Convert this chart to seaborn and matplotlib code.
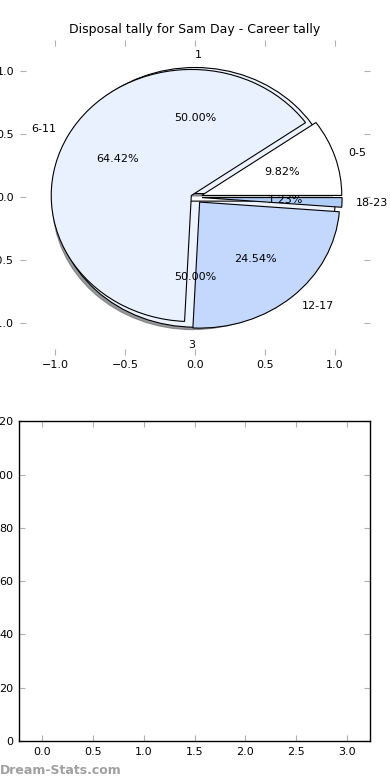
import matplotlib
matplotlib.use("Agg")
import matplotlib.pyplot as plt
import seaborn as sns

title = "Disposal tally for Sam Day - Career tally"
outer_labels = ["1", "3"]
outer_values = [50, 50]
outer_colors = ["#ecf2fe", "#ecf2fe"]
outer_explode = [0.03, 0.03]

inner_labels = ["0-5", "6-11", "12-17", "18-23"]
inner_values = [16, 105, 40, 2]
inner_colors = ["#ffffff", "#eaf1fe", "#c4d8fd", "#b0cdf8"]
inner_explode = [0.05, 0.03, 0.05, 0.05]

pie_ticks = [-1.0, -0.5, 0.0, 0.5, 1.0]
bar_xticks = [0.0, 0.5, 1.0, 1.5, 2.0, 2.5, 3.0]
bar_yticks = [0, 20, 40, 60, 80, 100, 120]

sns.set_style("ticks")
plt.rcParams["font.family"] = ["DejaVu Sans"]
plt.rcParams["font.size"] = 8
plt.rcParams["text.color"] = "black"
plt.rcParams["xtick.labelcolor"] = "black"
plt.rcParams["ytick.labelcolor"] = "black"

fig = plt.figure(figsize=(3.9, 7.8), dpi=100)
ax1 = fig.add_axes([0.051, 0.545, 0.898, 0.404])
ax2 = fig.add_axes([0.049, 0.050, 0.900, 0.410])

wp = dict(edgecolor="black", linewidth=0.8)
_, otexts, _ = ax1.pie(outer_values, labels=outer_labels, colors=outer_colors,
                       explode=outer_explode, autopct="%.2f%%",
                       shadow=dict(ox=-0.012, oy=-0.014, shade=0.55, alpha=0.7),
                       wedgeprops=wp, textprops=dict(fontsize=8, color="black"))
otexts[0].set_ha("left")
otexts[1].set_ha("right")
otexts[1].set_va("top")
ax1.pie(inner_values, labels=inner_labels, colors=inner_colors, explode=inner_explode,
        autopct="%.2f%%", wedgeprops=wp, textprops=dict(fontsize=8, color="black"))
ax1.set_aspect("auto")
ax1.set_frame_on(False)
ax1.set_xlim(-1.25, 1.25)
ax1.set_ylim(-1.25, 1.25)
ax1.set_xticks(pie_ticks)
ax1.set_yticks(pie_ticks)
ax1.set_title(title, fontsize=9, color="black", pad=5)

for ax in (ax1, ax2):
    ax.tick_params(direction="in", top=True, right=True, length=4, width=0.8,
                   color="#b0b0b0", labelsize=8, pad=4, labelcolor="black")

ax2.set_xlim(-0.225, 3.225)
ax2.set_ylim(0, 120)
ax2.set_xticks(bar_xticks)
ax2.set_yticks(bar_yticks)
for s in ax2.spines.values():
    s.set_visible(True)
    s.set_color("black")
    s.set_linewidth(1.0)

fig.text(0.0, 0.004, "Dream-Stats.com", fontsize=9, color="#a0a0a0",
         fontweight="bold", ha="left", va="bottom")

fig.savefig("out.png", dpi=100)
